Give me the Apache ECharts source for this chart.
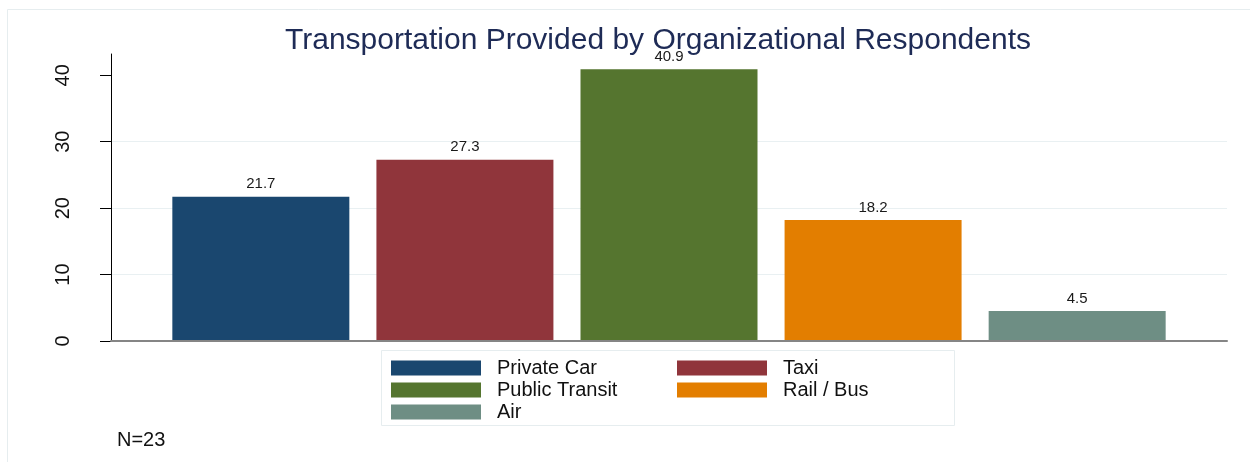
<!DOCTYPE html>
<html>
<head>
<meta charset="utf-8">
<script src="https://cdn.jsdelivr.net/npm/echarts@6/dist/echarts.min.js"></script>
<style>
html,body{margin:0;padding:0;background:#fff;}
#chart{width:1250px;height:462px;}
</style>
</head>
<body>
<div id="chart"></div>
<script>
var titleText = 'Transportation Provided by Organizational Respondents';
var seriesNames = ['Private Car', 'Taxi', 'Public Transit', 'Rail / Bus', 'Air'];
var seriesValues = [21.7, 27.3, 40.9, 18.2, 4.5];
var seriesColors = ['#1a476f', '#90353b', '#55752f', '#e37e00', '#6e8e84'];
var yTicks = [0, 10, 20, 30, 40];
var noteText = 'N=23';
var legendCol1 = ['Private Car', 'Public Transit', 'Air'];
var legendCol2 = ['Taxi', 'Rail / Bus'];

var chart = echarts.init(document.getElementById('chart'));
var FONT = 'Liberation Sans, Arial, sans-serif';

var series = seriesNames.map(function (name, i) {
  return {
    name: name,
    type: 'bar',
    data: [seriesValues[i]],
    barWidth: 177,
    barGap: '15.3%',
    itemStyle: { color: seriesColors[i] },
    label: {
      show: true,
      position: 'top',
      distance: 5,
      color: '#1a1a1a',
      fontSize: 15,
      fontFamily: FONT
    }
  };
});

function legendCfg(names, left) {
  return {
    data: names,
    orient: 'vertical',
    left: left,
    top: 358,
    padding: 0,
    itemWidth: 90,
    itemHeight: 15,
    itemGap: 2,
    icon: 'rect',
    selectedMode: false,
    textStyle: { fontSize: 20, color: '#111', fontFamily: FONT, padding: [0, 0, 0, 11] }
  };
}

chart.setOption({
  animation: false,
  backgroundColor: '#fff',
  title: {
    text: titleText,
    left: 653,
    textAlign: 'center',
    top: 21,
    textStyle: { fontSize: 30, fontWeight: 'normal', color: '#1e2b56', fontFamily: FONT }
  },
  legend: [legendCfg(legendCol1, 391), legendCfg(legendCol2, 677)],
  grid: { left: 111, right: 23, top: 54, bottom: 121, containLabel: false },
  xAxis: {
    type: 'category',
    data: [''],
    axisLine: { show: true, lineStyle: { color: '#858585', width: 2 } },
    axisTick: { show: false },
    axisLabel: { show: false },
    z: 10
  },
  yAxis: {
    type: 'value',
    min: 0,
    max: 43.2,
    interval: 10,
    axisLine: { show: true, lineStyle: { color: '#000', width: 1 } },
    axisTick: { show: true, length: 11, customValues: yTicks, lineStyle: { color: '#000' } },
    axisLabel: {
      customValues: yTicks,
      rotate: 90,
      margin: 38,
      fontSize: 20,
      color: '#111',
      fontFamily: FONT
    },
    splitLine: { show: true, showMaxLine: false, showMinLine: false, lineStyle: { color: '#e9f0f2', width: 1 } }
  },
  graphic: [
    {
      type: 'rect',
      shape: { x: 7.5, y: 9.5, width: 1300, height: 500 },
      style: { fill: 'none', stroke: '#e6edef', lineWidth: 1 },
      silent: true,
      z: -1
    },
    {
      type: 'rect',
      shape: { x: 381.5, y: 350.5, width: 573, height: 75 },
      style: { fill: 'none', stroke: '#e6edef', lineWidth: 1 },
      silent: true
    },
    {
      type: 'text',
      left: 117,
      top: 430,
      style: { text: noteText, fontSize: 20, fill: '#111', font: '20px ' + FONT }
    }
  ],
  series: series
});
</script>
</body>
</html>
